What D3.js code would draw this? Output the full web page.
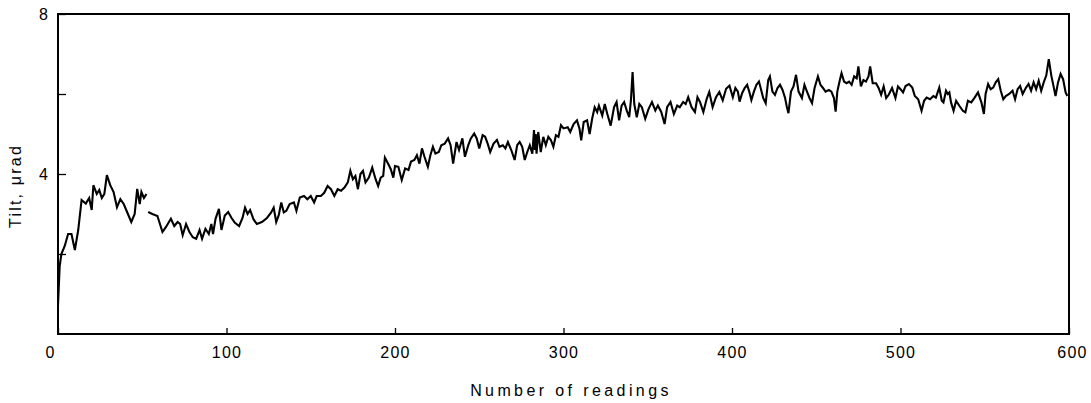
<!DOCTYPE html>
<html>
<head>
<meta charset="utf-8">
<script src="https://cdn.jsdelivr.net/npm/d3@7"></script>
<style>
  html, body { margin: 0; padding: 0; background: #fff; }
  svg { display: block; }
  text { font-family: "Liberation Sans", Arial, sans-serif; fill: #000; }
</style>
</head>
<body>
<svg id="chart" width="1091" height="403"></svg>
<script>
// ---- data ----
const readings = [
  0,1,2,4,6,8,10,12,14,16.5,18.5,20,21,23,24.5,26,27.5,29,31,33,35,37,39,41,43.5,45.5,47,48.5,49.5,51,52.5,53,53.5,56,59,62,64,67,69,71,72.5,74,76,78,80,82,84,85.5,87.5,89.5,91,92,93.5,95.5,97,
  99,101,103,105,107.5,109.5,111,112.5,114,116,118,121,124,126.5,128,129.5,131,132.5,134,135.5,137.5,140,141.5,143.5,146,148,150,152,153.5,156,158,160,162,164,166,168,170,172,173.5,175,176.5,178,179.5,181,182.5,184.5,186.5,188.5,190,191.5,193,194,196,197.5,199,
  200,202,204,206,208,209.5,211.5,213,214.5,216,217.5,219.5,221,222.5,224,226,227.5,229.5,231.5,233,234.5,236.5,238,240,241.5,243.5,245,247,248.5,250,252,253.5,255,256.5,258.5,260.5,262,264,265.5,267,269,271,272.5,274,275.5,277,278.5,280,281.5,282.5,283,283.5,284,285,286.5,288,289.5,291,292.5,294,295.5,297,298.5,300,
  302.5,304,306,308,309.5,310.5,312,314,315.5,317,318.5,320,321,323,324.5,326,328,330,331.5,333,334.5,336,337.5,339,340,341,342,343.5,345,346.5,348.5,350.5,352.5,354.5,356,358,360,361.5,363.5,365.5,367.5,369,371,372.5,374,376,378,379.5,381,383,385,386.5,388.5,390.5,392.5,394.5,396.5,398.5,400.5,
  402,403.5,404.5,406,407.5,409,410.5,411.5,413,414.5,416,417,418.5,420,421.5,422.5,424,425.5,427,428.5,430,431.5,432.5,433.5,435,436.5,438,439.5,441.5,443,444.5,446,447.5,449,451,452.5,454,455.5,457.5,459,460.5,461.5,462.5,464,465,466.5,468,469.5,471,472.5,474,475,476.5,478,479.5,481,482,483.5,485.5,487,488.5,490,491.5,493,495,497,498.5,
  500,501.5,503,505,507,508.5,510.5,512.5,514,515.5,517.5,519.5,521,523,524.5,525.5,527,528,529,530,531.5,533,535,537,538.5,540,542,544,546,548,549.5,550.5,552,553.5,555,556.5,558,559.5,561,562.5,564.5,566.5,568,569.5,571,572.5,574.5,576,577.5,579,580.5,582,583.5,585,586.5,588,589.5,591,592,593.5,595,596.5,598,599
];
const tilt = [
  0.72,1.7,2.0,2.2,2.5,2.5,2.1,2.6,3.35,3.26,3.4,3.1,3.72,3.5,3.6,3.4,3.5,3.97,3.72,3.55,3.17,3.37,3.25,3.05,2.8,3.0,3.63,3.25,3.55,3.4,3.5,null,3.05,3.0,2.95,2.55,2.67,2.88,2.7,2.8,2.75,2.47,2.75,2.55,2.42,2.38,2.6,2.38,2.63,2.5,2.75,2.5,2.88,3.13,2.6,
  2.96,3.05,2.9,2.78,2.7,2.9,3.16,3.0,3.1,2.87,2.75,2.8,2.9,3.04,3.16,2.8,2.97,3.29,3.04,3.08,3.25,3.29,3.08,3.41,3.45,3.37,3.45,3.29,3.45,3.45,3.53,3.7,3.62,3.45,3.62,3.58,3.66,3.79,4.08,3.87,3.95,3.62,4.0,4.08,3.79,3.91,4.16,3.87,3.7,3.91,3.95,4.41,4.25,4.12,3.91,
  4.2,4.18,3.85,4.14,4.1,4.31,4.35,4.47,4.26,4.64,4.43,4.18,4.47,4.68,4.51,4.55,4.72,4.76,4.89,4.72,4.26,4.8,4.6,4.89,4.43,4.72,4.89,5.01,4.89,4.64,4.97,4.93,4.76,4.55,4.76,4.85,4.68,4.72,4.64,4.8,4.6,4.35,4.72,4.8,4.68,4.35,4.55,4.72,4.51,5.1,4.6,5.0,4.51,5.05,4.55,4.93,4.72,4.93,4.85,4.68,4.97,4.93,5.22,5.14,
  5.17,5.05,5.25,5.34,5.13,4.84,5.3,5.34,5.0,5.38,5.67,5.55,5.71,5.46,5.75,5.5,5.21,5.67,5.8,5.34,5.71,5.8,5.59,5.42,5.84,6.55,5.75,5.42,5.75,5.67,5.38,5.63,5.8,5.59,5.71,5.55,5.25,5.67,5.8,5.5,5.71,5.67,5.8,5.75,5.92,5.67,5.55,5.92,5.8,5.55,5.88,6.05,5.67,5.92,6.05,5.84,6.13,6.21,5.92,
  6.15,6.06,5.81,6.02,6.15,6.23,6.02,5.85,6.06,6.23,6.31,6.15,5.9,5.77,6.35,6.44,6.06,5.98,6.15,6.23,6.1,5.9,5.69,5.52,6.06,6.19,6.48,6.06,5.9,6.23,6.06,5.9,5.77,6.15,6.44,6.23,6.15,6.06,6.1,6.06,5.9,5.56,6.06,6.35,6.52,6.31,6.27,6.31,6.23,6.44,6.39,6.69,6.19,6.35,6.31,6.44,6.69,6.27,6.27,6.15,5.98,6.19,5.9,5.98,6.15,5.9,6.19,
  6.12,6.04,6.2,6.25,6.16,5.95,5.87,5.58,5.83,5.91,5.87,5.95,5.91,6.16,5.83,5.79,6.08,6.0,6.04,5.79,5.58,5.83,5.7,5.58,5.54,5.83,5.79,5.91,6.04,5.79,5.5,6.0,6.25,6.12,6.16,6.29,6.37,6.08,5.87,5.95,6.0,6.08,5.87,6.12,6.2,6.0,6.16,6.25,6.08,6.29,6.12,6.33,6.08,6.29,6.46,6.87,6.46,6.16,5.95,6.29,6.5,6.37,6.04,5.95
];
const xTicks = [0, 100, 200, 300, 400, 500, 600];
const yTicks = [2, 4, 6, 8];
const yTickLabels = ["", "4", "", "8"];
const xTitle = "Number of readings";
const yTitle = "Tilt, \u03bcrad";

// ---- layout ----
const svg = d3.select("#chart");
const L = 58, R = 1069, T = 14, B = 334;

const x = d3.scaleLinear().domain([0, 600]).range([L, R]);
const y = d3.scaleLinear().domain([0, 8]).range([B, T]);

const pts = readings.map((r, i) => ({ r, v: tilt[i] }));

// curve
const line = d3.line()
  .defined(d => d.v !== null)
  .x(d => x(d.r))
  .y(d => y(d.v));

svg.append("path")
  .datum(pts)
  .attr("fill", "none")
  .attr("stroke", "#000")
  .attr("stroke-width", 2.1)
  .attr("stroke-linejoin", "miter")
  .attr("d", line);

// x axis (ticks point inward)
const xAxis = svg.append("g")
  .attr("transform", `translate(0,${B})`)
  .call(d3.axisBottom(x).tickValues(xTicks).tickSize(-6).tickPadding(13).tickFormat(d3.format("d")));
xAxis.select(".domain").remove();
xAxis.selectAll(".tick line").attr("stroke", "#000").attr("stroke-width", 1.3);
xAxis.selectAll(".tick text")
  .style("font-family", "'Liberation Sans', Arial, sans-serif")
  .style("font-size", "16px")
  .style("letter-spacing", "1.2px")
  .attr("dx", d => d === 0 ? -8 : (d === 600 ? 3 : 0));

// y axis
const yAxis = svg.append("g")
  .attr("transform", `translate(${L},0)`)
  .call(d3.axisLeft(y).tickValues(yTicks).tickSize(-8).tickPadding(10).tickFormat((d, i) => yTickLabels[i]));
yAxis.select(".domain").remove();
yAxis.selectAll(".tick line").attr("stroke", "#000").attr("stroke-width", 1.3);
yAxis.selectAll(".tick text")
  .style("font-family", "'Liberation Sans', Arial, sans-serif")
  .style("font-size", "16px");

// frame
svg.append("rect")
  .attr("x", L).attr("y", T)
  .attr("width", R - L).attr("height", B - T)
  .attr("fill", "none")
  .attr("stroke", "#000")
  .attr("stroke-width", 2);

// titles
svg.append("text")
  .attr("x", 571).attr("y", 396)
  .attr("text-anchor", "middle")
  .style("font-size", "16px")
  .style("letter-spacing", "3.4px")
  .text(xTitle);

svg.append("text")
  .attr("transform", `translate(21,186) rotate(-90)`)
  .attr("text-anchor", "middle")
  .style("font-size", "16px")
  .style("letter-spacing", "2.2px")
  .text(yTitle);
</script>
</body>
</html>
